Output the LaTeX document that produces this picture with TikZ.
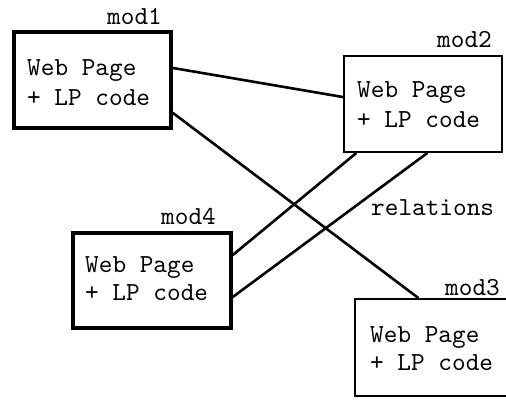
\documentclass[tikz,border=0pt]{standalone}
\usetikzlibrary{calc}
% the 10pt design size of Latin Modern Mono has the sturdier strokes
\font\modfont="[lmmono10-regular]" at 26pt
\begin{document}
\begin{tikzpicture}[x=1pt,y=-1pt,
  modbox/.style={draw=black, rectangle, inner sep=0pt, fill=none},
  modtext/.style={anchor=base west, inner sep=0pt, font=\modfont},
  relation/.style={draw=black, line width=2.6pt, line cap=round}]
  % canvas
  \path[fill=white] (0,0) rectangle (506,399);
  \useasboundingbox (0,0) rectangle (506,399);

  % module boxes
  \node[modbox, line width=4pt, minimum width=157pt, minimum height=96pt] (m1) at (92.5,80) {};
  \node[modbox, line width=2.5pt, minimum width=158pt, minimum height=96pt] (m2) at (423,104) {};
  \node[modbox, line width=3.5pt, minimum width=158pt, minimum height=95pt] (m4) at (152,280.5) {};
  \node[modbox, line width=2.5pt, minimum width=165pt, minimum height=97pt] (m3) at (437.5,347.5) {};

  % module names
  \node[modtext] (n1) at (107,24) {mod1};
  \node[modtext] (n2) at (437,47) {mod2};
  \node[modtext] (n4) at (161,224) {mod4};
  \node[modtext] (n3) at (445,295) {mod3};

  % box contents
  \node[modtext] (t1a) at (27,75) {Web Page};
  \node[modtext] (t1b) at (27,105) {+ LP code};
  \node[modtext] (t2a) at (357,97) {Web Page};
  \node[modtext] (t2b) at (357,127) {+ LP code};
  \node[modtext] (t4a) at (85,272) {Web Page};
  \node[modtext] (t4b) at (85,300) {+ LP code};
  \node[modtext] (t3a) at (370,342) {Web Page};
  \node[modtext] (t3b) at (370,370) {+ LP code};

  % relations between modules
  \draw[relation] ([yshift=12pt]m1.east) -- ([yshift=7pt]m2.west);
  \draw[relation] ([yshift=-33pt]m1.east) -- ([xshift=-19.5pt]m3.north);
  \draw[relation] ([xshift=-67pt]m2.south) -- ([yshift=25.5pt]m4.east);
  \draw[relation] ([xshift=4pt]m2.south) -- ([yshift=-16.5pt]m4.east);

  \node[modtext] (rel) at (371,215) {relations};
\end{tikzpicture}
\end{document}
